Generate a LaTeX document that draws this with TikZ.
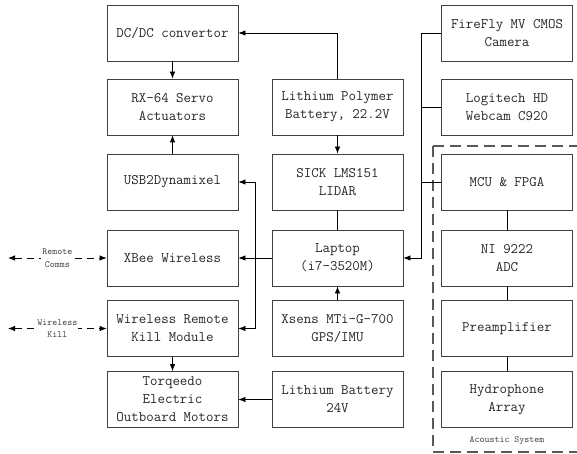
\documentclass[tikz,border=0pt]{standalone}
\usetikzlibrary{positioning, arrows.meta, calc}

\begin{document}
\begin{tikzpicture}[x=1pt,y=1pt,node distance=74pt,on grid,
  block/.style={draw=black!75, line width=0.8pt, minimum width=131pt, minimum height=56pt,
    align=center, inner sep=1pt, text=black!85, font=\fontsize{14.5}{18}\selectfont\ttfamily},
  note/.style={font=\fontsize{9.5}{12.5}\selectfont\ttfamily, align=center, fill=white,
    inner sep=1pt, text=black!75},
  >={Latex[length=7pt,width=5.5pt]}]
 \useasboundingbox (0,0) rectangle (577,-454);

 % left column
 \node[block] (dcdc) at (172.5,-33) {DC/DC convertor};
 \node[block] (servo) [below=of dcdc] {RX-64 Servo\\Actuators};
 \node[block] (usb) [below=75pt of servo] {USB2Dynamixel};
 \node[block] (xbee) [below=76pt of usb] {XBee Wireless};
 \node[block] (kill) [below=70.5pt of xbee] {Wireless Remote\\Kill Module};
 \node[block] (motor) [below=71pt of kill] {Torqeedo\\Electric\\Outboard Motors};

 % middle column
 \node[block] (lipo) at (337.5,-107) {Lithium Polymer\\Battery, 22.2V};
 \node[block] (sick) [below=75pt of lipo] {SICK LMS151\\LIDAR};
 \node[block] (laptop) [below=76pt of sick] {Laptop\\(i7-3520M)};
 \node[block] (xsens) [below=70.5pt of laptop] {Xsens MTi-G-700\\GPS/IMU};
 \node[block] (batt) [below=71pt of xsens] {Lithium Battery\\24V};

 % right column
 \node[block] (cam) at (507,-33) {FireFly MV CMOS\\Camera};
 \node[block] (webcam) [below=of cam] {Logitech HD\\Webcam C920};
 \node[block] (mcu) [below=75pt of webcam] {MCU \& FPGA};
 \node[block] (adc) [below=76pt of mcu] {NI 9222\\ADC};
 \node[block] (preamp) [below=70.5pt of adc] {Preamplifier};
 \node[block] (hydro) [below=71pt of preamp] {Hydrophone\\Array};

 % acoustic system frame
 \draw[black!65, line width=1.1pt, dash pattern=on 11pt off 6pt] (433,-146) rectangle (600,-452);
 \node[note, fill=none] (acoustic) at (507,-441) {Acoustic System};

 \coordinate (lbus) at ($(usb.east)!0.5!(sick.west)$);
 \coordinate (rbus) at (421,-258);
 \coordinate (far) at (8,0);

 \begin{scope}[line width=0.8pt]
  \draw[->] (lipo.north) |- (dcdc.east);
  \draw[->] (lipo) -- (sick);
  \draw (sick) -- (laptop);
  \draw[->] (xsens) -- (laptop);
  \draw[->] (batt) -- (motor);
  \draw[->] (dcdc) -- (servo);
  \draw[->] (usb) -- (servo);
  \draw[->] (kill) -- (motor);
  \draw[->] (laptop) -- (xbee);
  \draw[<->] (usb.east) -- (lbus) |- (kill.east);
  \draw[->] (cam.west) -| (rbus) -- (laptop.east);
  \draw (webcam.west) -- (webcam.west -| rbus);
  \draw (mcu.west) -- (mcu.west -| rbus);
  \draw (mcu) -- (adc) -- (preamp) -- (hydro);
  \draw[<->, dash pattern=on 7pt off 5pt] (far |- xbee.west) -- node[note] {Remote\\Comms} (xbee.west);
  \draw[<->, dash pattern=on 7pt off 5pt] (far |- kill.west) -- node[note] {Wireless\\Kill} (kill.west);
 \end{scope}
\end{tikzpicture}
\end{document}
